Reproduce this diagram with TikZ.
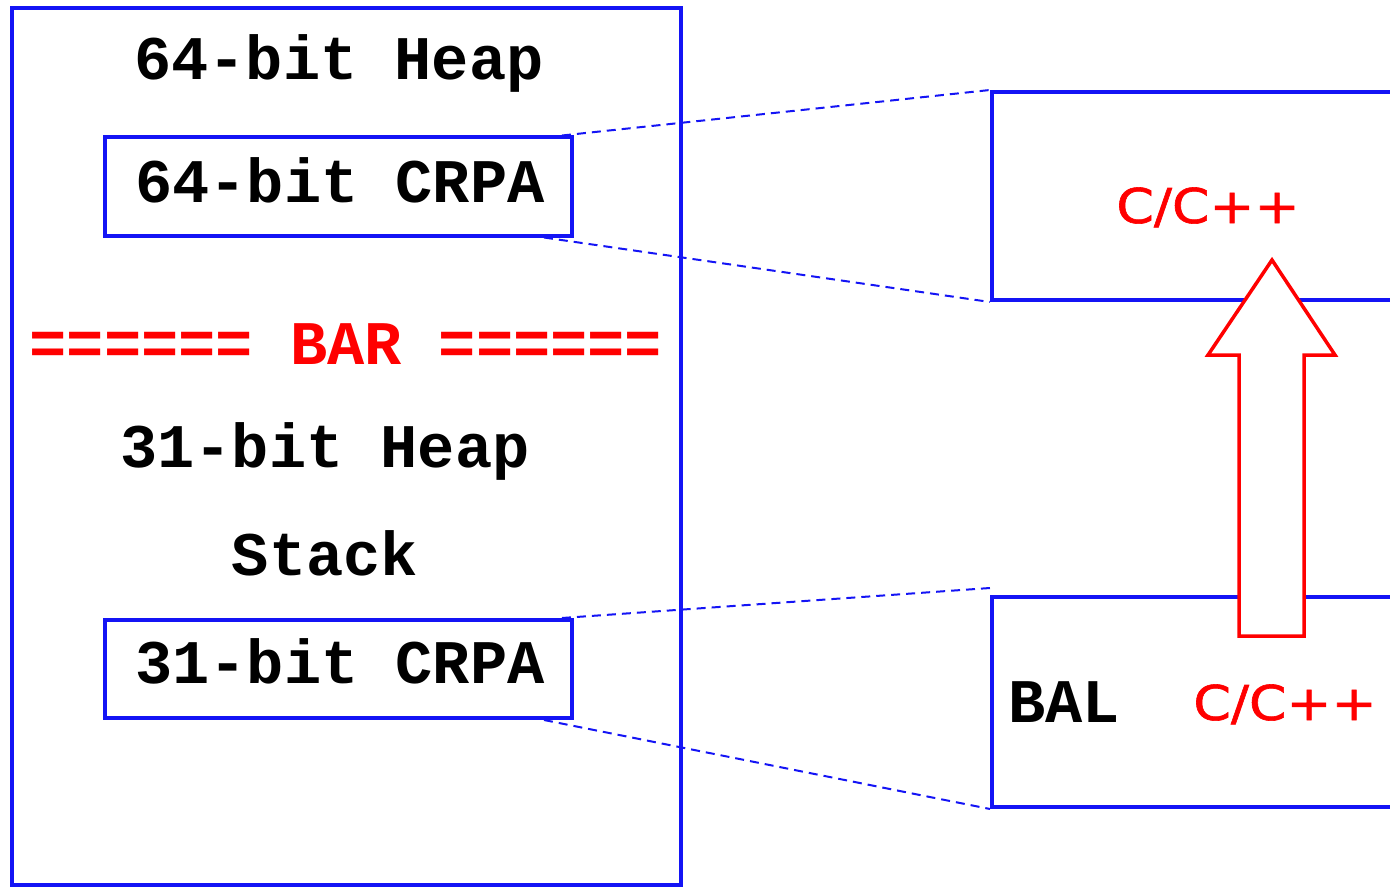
\documentclass[tikz,border=0pt]{standalone}
\usepackage{fontspec}
\setmonofont{Liberation Mono}
\newfontfamily\cfont[FakeBold=1.2]{DejaVu Sans}
\definecolor{boxblue}{RGB}{20,20,245}
\definecolor{hotred}{RGB}{255,0,0}
\tikzset{
  frame/.style={draw=boxblue, line width=4pt, inner sep=0pt},
  link/.style={draw=boxblue, line width=2pt, dash pattern=on 9pt off 6pt},
  mono/.style={font=\fontsize{62}{70}\selectfont\ttfamily\bfseries, inner sep=0pt, anchor=base},
  cpp/.style={font=\fontsize{48}{56}\selectfont\cfont, text=hotred, inner sep=0pt, anchor=base},
  bigarrow/.style={draw=hotred, fill=white, line width=3.5pt, line join=miter}
}
\begin{document}
\begin{tikzpicture}[x=1pt,y=-1pt]
\useasboundingbox (0,0) rectangle (1390,888);
\clip (0,0) rectangle (1390,888);
% boxes
\node[frame, minimum width=669pt, minimum height=877pt] (mem) at (346.5,446.5) {};
\node[frame, minimum width=467pt, minimum height=98pt] (crpa64) at (338.5,186.5) {};
\node[frame, minimum width=467pt, minimum height=98pt] (crpa31) at (338.5,669) {};
\node[frame, minimum width=440pt, minimum height=208pt] (top) at (1212,196) {};
\node[frame, minimum width=440pt, minimum height=210pt] (bot) at (1212,702) {};
% dashed connectors
\draw[link] ([xshift=-12pt]crpa64.north east) -- (top.north west);
\draw[link] ([xshift=-30pt]crpa64.south east) -- (top.south west);
\draw[link] ([xshift=-12pt]crpa31.north east) -- ([yshift=7pt]bot.north west);
\draw[link] ([xshift=-30pt]crpa31.south east) -- (bot.south west);
% block arrow
\draw[bigarrow] (1272,260) -- (1335,355) -- (1304,355) -- (1304,636) -- (1239,636) -- (1239,355) -- (1208,355) -- cycle;
% texts
\node[mono] (h64) at (339,80) {64-bit Heap};
\node[mono] (t64) at (340,202) {64-bit CRPA};
\node[mono, text=hotred] (bar) at (346,364) {====== BAR ======};
\node[mono] (h31) at (325,467) {31-bit Heap};
\node[mono] (stk) at (325,575) {Stack};
\node[mono] (t31) at (340,683) {31-bit CRPA};
\node[cpp] (c1) at (1208,223) {\scalebox{1.12}[1]{C/C++}};
\node[mono, anchor=base west] (bal) at (1008,722) {BAL};
\node[cpp] (c2) at (1285,720) {\scalebox{1.12}[1]{C/C++}};
\end{tikzpicture}
\end{document}
